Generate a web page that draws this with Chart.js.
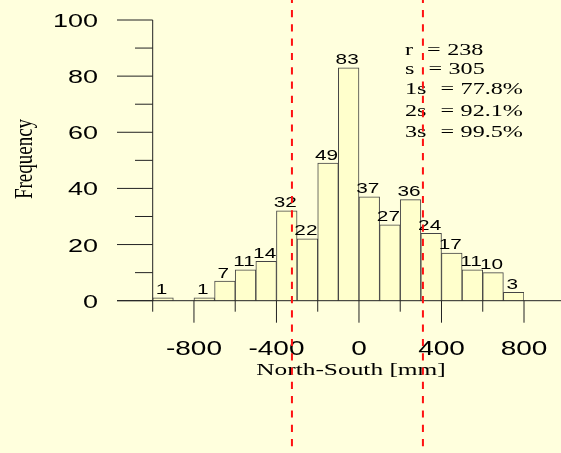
<!DOCTYPE html>
<html>
<head>
<meta charset="utf-8">
<script src="https://cdn.jsdelivr.net/npm/chart.js@4/dist/chart.umd.min.js"></script>
<style>
  html, body { margin: 0; padding: 0; background: #ffffdd; }
  #wrap { width: 561px; height: 453px; }
</style>
</head>
<body>
<div id="wrap"><canvas id="histChart" width="561" height="453"></canvas></div>
<script>
// Histogram bins (centres, 100 mm wide) and their counts
const binCenters = [-950, -850, -750, -650, -550, -450, -350, -250, -150, -50, 50, 150, 250, 350, 450, 550, 650, 750];
const counts = [1, 0, 1, 7, 11, 14, 32, 22, 49, 83, 37, 27, 36, 24, 17, 11, 10, 3];

// Axis ticks
const xTickLabels = [-800, -400, 0, 400, 800];
const xMinorTicks = [-1000, -600, -200, 200, 600];
const yTickLabels = [0, 20, 40, 60, 80, 100];
const yMinorTicks = [10, 30, 50, 70, 90];

// Dashed sigma lines and stats box
const sigmaLines = [-325, 310];
const statNames = ['r', 's', '1s', '2s', '3s'];
const statValues = ['238', '305', '77.8%', '92.1%', '99.5%'];

const sansFont = '"Liberation Sans", Arial, sans-serif';
const serifFont = '"Liberation Serif", "Times New Roman", serif';

// Draw text stretched horizontally like the original picture
function wideText(ctx, text, x, y, align, sx) {
  ctx.save();
  ctx.translate(x, y);
  ctx.scale(sx, 1);
  ctx.textAlign = align;
  ctx.fillText(text, 0, 0);
  ctx.restore();
}

const histDecor = {
  id: 'histDecor',
  beforeDraw(chart) {
    const ctx = chart.ctx;
    ctx.save();
    ctx.fillStyle = '#ffffdd';
    ctx.fillRect(0, 0, chart.width, chart.height);
    ctx.restore();
  },
  afterDatasetsDraw(chart) {
    const ctx = chart.ctx;
    const xs = chart.scales.x;
    const ys = chart.scales.y;
    const y0 = ys.getPixelForValue(0);
    const xLeft = xs.getPixelForValue(-1000);

    ctx.save();
    ctx.strokeStyle = '#222';
    ctx.lineWidth = 1;
    ctx.beginPath();
    // x axis line
    ctx.moveTo(117, y0);
    ctx.lineTo(chart.width, y0);
    // y axis line
    ctx.moveTo(xLeft, ys.getPixelForValue(100));
    ctx.lineTo(xLeft, y0);
    // y ticks
    yTickLabels.forEach(v => {
      const py = ys.getPixelForValue(v);
      ctx.moveTo(117, py);
      ctx.lineTo(xLeft, py);
    });
    yMinorTicks.forEach(v => {
      const py = ys.getPixelForValue(v);
      ctx.moveTo(135, py);
      ctx.lineTo(xLeft, py);
    });
    // x ticks
    xTickLabels.forEach(v => {
      const px = xs.getPixelForValue(v);
      ctx.moveTo(px, y0);
      ctx.lineTo(px, y0 + 22);
    });
    xMinorTicks.forEach(v => {
      const px = xs.getPixelForValue(v);
      ctx.moveTo(px, y0);
      ctx.lineTo(px, y0 + 11);
    });
    ctx.stroke();

    // tick labels
    ctx.fillStyle = '#000';
    ctx.font = '20px ' + sansFont;
    xTickLabels.forEach(v => {
      wideText(ctx, String(v), xs.getPixelForValue(v), 355, 'center', 1.4);
    });
    ctx.font = '19px ' + sansFont;
    yTickLabels.forEach(v => {
      wideText(ctx, String(v), 98, ys.getPixelForValue(v) + 7, 'right', 1.42);
    });

    // bar count labels
    ctx.font = '15.5px ' + sansFont;
    const meta = chart.getDatasetMeta(0);
    meta.data.forEach((bar, i) => {
      if (counts[i] === 0) return;
      wideText(ctx, String(counts[i]), bar.x - 1.5, bar.y - 3.5, 'center', 1.34);
    });

    // axis titles
    ctx.font = '17.5px ' + serifFont;
    wideText(ctx, 'North-South [mm]', 351, 375, 'center', 1.45);
    ctx.save();
    ctx.translate(32, 159);
    ctx.rotate(-Math.PI / 2);
    ctx.scale(1, 1.3);
    ctx.font = '19px ' + serifFont;
    ctx.textAlign = 'center';
    ctx.fillText('Frequency', 0, 0);
    ctx.restore();

    // stats text
    ctx.font = '17.5px ' + serifFont;
    const rows = [55, 73.5, 94, 115.5, 136.5];
    statNames.forEach((name, i) => {
      const sx = 1.38;
      const nameW = ctx.measureText(name).width * sx;
      const eqX = 405 + nameW + 14;
      const eqW = ctx.measureText('=').width * sx;
      wideText(ctx, name, 405, rows[i], 'left', sx);
      wideText(ctx, '=', eqX, rows[i], 'left', sx);
      wideText(ctx, statValues[i], eqX + eqW + 6.5, rows[i], 'left', sx);
    });

    // red dashed lines
    ctx.strokeStyle = '#ff1111';
    ctx.lineWidth = 2;
    ctx.setLineDash([7.2, 7.1]);
    sigmaLines.forEach(v => {
      const px = xs.getPixelForValue(v);
      ctx.beginPath();
      ctx.moveTo(px, -4.3);
      ctx.lineTo(px, chart.height);
      ctx.stroke();
    });
    ctx.restore();
  }
};

const ctx = document.getElementById('histChart').getContext('2d');
new Chart(ctx, {
  type: 'bar',
  data: {
    datasets: [{
      data: binCenters.map((c, i) => ({ x: c, y: counts[i] })),
      backgroundColor: '#ffffcc',
      borderColor: '#444',
      borderWidth: 1,
      barPercentage: 1,
      categoryPercentage: 1
    }]
  },
  options: {
    responsive: false,
    animation: false,
    layout: {
      padding: { left: 152.7, right: 37, top: 20, bottom: 152.3 }
    },
    scales: {
      x: { type: 'linear', min: -1000, max: 800, offset: false, display: false },
      y: { min: 0, max: 100, display: false }
    },
    plugins: {
      legend: { display: false },
      tooltip: { enabled: false }
    }
  },
  plugins: [histDecor]
});
</script>
</body>
</html>
